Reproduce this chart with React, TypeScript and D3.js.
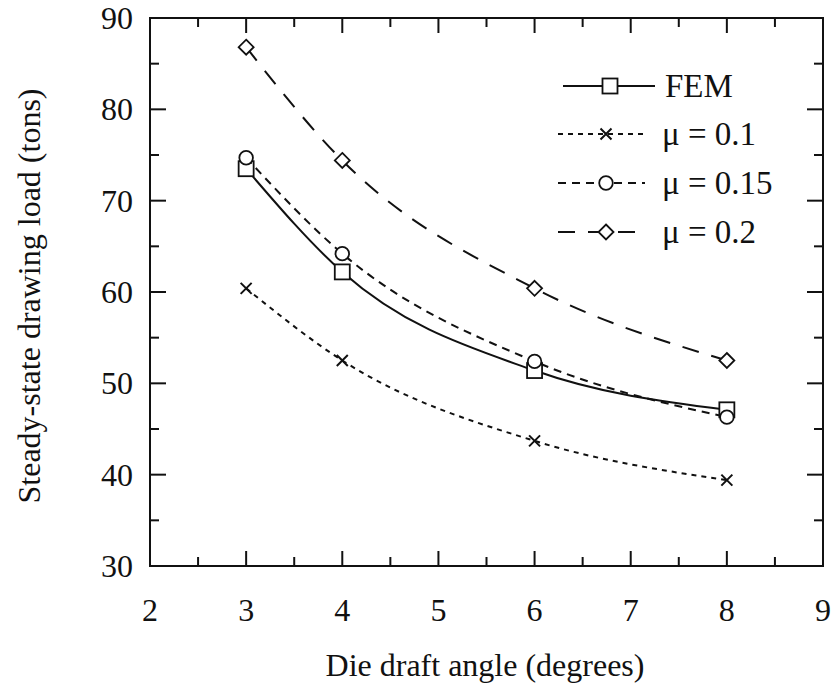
import React from 'react';
import * as d3 from 'd3';

// die draft angle (degrees)
const angles = [3, 4, 6, 8];
const femLoad = [73.5, 62.2, 51.4, 47.1];
const mu01Load = [60.4, 52.5, 43.7, 39.4];
const mu015Load = [74.7, 64.2, 52.4, 46.3];
const mu02Load = [86.8, 74.4, 60.4, 52.5];

const xTicks = [2, 3, 4, 5, 6, 7, 8, 9];
const yTicks = [30, 40, 50, 60, 70, 80, 90];

const series = [
  { name: 'FEM', values: femLoad, dash: '', marker: 'square' },
  { name: 'μ = 0.1', values: mu01Load, dash: '5,5', marker: 'cross' },
  { name: 'μ = 0.15', values: mu015Load, dash: '8,6', marker: 'circle' },
  { name: 'μ = 0.2', values: mu02Load, dash: '17,13', marker: 'diamond' },
];

const W = 839;
const H = 689;
const left = 150, right = 823, top = 18, bottom = 566;
const FONT = '"Liberation Serif", "Times New Roman", serif';

function Marker({ type, x, y }: { type: string; x: number; y: number }) {
  const st = { fill: 'white', stroke: '#111', strokeWidth: 1.8 };
  if (type === 'square') return <rect x={x - 7.5} y={y - 7.5} width={15} height={15} {...st} />;
  if (type === 'circle') return <circle cx={x} cy={y} r={6.8} {...st} />;
  if (type === 'diamond')
    return <path d={`M${x},${y - 7.5}L${x + 7.5},${y}L${x},${y + 7.5}L${x - 7.5},${y}Z`} {...st} />;
  return (
    <path
      d={`M${x - 5.5},${y - 5.5}L${x + 5.5},${y + 5.5}M${x - 5.5},${y + 5.5}L${x + 5.5},${y - 5.5}`}
      stroke="#111"
      strokeWidth={2}
    />
  );
}

export default function App() {
  const x = d3.scaleLinear().domain([2, 9]).range([left, right]);
  const y = d3.scaleLinear().domain([30, 90]).range([bottom, top]);
  const line = d3
    .line<number>()
    .x((_, i) => x(angles[i]))
    .y((d) => y(d))
    .curve(d3.curveMonotoneX);

  const xMinor = d3.range(2.5, 9, 1);
  const yMinor = d3.range(35, 90, 10);
  const legendY = [86, 134, 183, 232];

  return (
    <svg width={W} height={H} style={{ position: 'absolute', left: 0, top: 0, background: 'white' }}>
      <g fontFamily={FONT} fill="#111">
        {/* ticks */}
        {xTicks.map((t) => (
          <g key={'xt' + t} stroke="#111" strokeWidth={2}>
            <line x1={x(t)} x2={x(t)} y1={bottom} y2={bottom - 15} />
            <line x1={x(t)} x2={x(t)} y1={top} y2={top + 15} />
          </g>
        ))}
        {xMinor.map((t) => (
          <g key={'xm' + t} stroke="#111" strokeWidth={2}>
            <line x1={x(t)} x2={x(t)} y1={bottom} y2={bottom - 9} />
            <line x1={x(t)} x2={x(t)} y1={top} y2={top + 9} />
          </g>
        ))}
        {yTicks.map((t) => (
          <g key={'yt' + t} stroke="#111" strokeWidth={2}>
            <line x1={left} x2={left + 16} y1={y(t)} y2={y(t)} />
            <line x1={right} x2={right - 16} y1={y(t)} y2={y(t)} />
          </g>
        ))}
        {yMinor.map((t) => (
          <g key={'ym' + t} stroke="#111" strokeWidth={2}>
            <line x1={left} x2={left + 9} y1={y(t)} y2={y(t)} />
            <line x1={right} x2={right - 9} y1={y(t)} y2={y(t)} />
          </g>
        ))}
        <rect x={left} y={top} width={right - left} height={bottom - top} fill="none" stroke="#111" strokeWidth={2} />

        {/* tick labels */}
        {xTicks.map((t) => (
          <text key={'xl' + t} x={x(t)} y={bottom + 55} textAnchor="middle" fontSize={32}>
            {t}
          </text>
        ))}
        {yTicks.map((t) => (
          <text key={'yl' + t} x={left - 17} y={y(t) + 11} textAnchor="end" fontSize={32}>
            {t}
          </text>
        ))}

        <text x={485} y={676} textAnchor="middle" fontSize={32}>
          Die draft angle (degrees)
        </text>
        <text transform={`translate(40,296) rotate(-90)`} textAnchor="middle" fontSize={32}>
          Steady-state drawing load (tons)
        </text>

        {/* series */}
        {series.map((s) => (
          <g key={s.name}>
            <path d={line(s.values) || ''} fill="none" stroke="#111" strokeWidth={2} strokeDasharray={s.dash} />
            {s.values.map((v, i) => (
              <Marker key={i} type={s.marker} x={x(angles[i])} y={y(v)} />
            ))}
          </g>
        ))}

        {/* legend */}
        {series.map((s, i) => (
          <g key={'lg' + s.name}>
            <line
              x1={i === 0 ? 563 : 558}
              x2={i === 0 ? 655 : 645}
              y1={legendY[i]}
              y2={legendY[i]}
              stroke="#111"
              strokeWidth={2}
              strokeDasharray={s.dash}
            />
            <Marker type={s.marker} x={i === 0 ? 610 : 606} y={legendY[i]} />
            <text x={i === 0 ? 665 : 662} y={legendY[i] + 11} fontSize={33}>
              {s.name}
            </text>
          </g>
        ))}
      </g>
    </svg>
  );
}
